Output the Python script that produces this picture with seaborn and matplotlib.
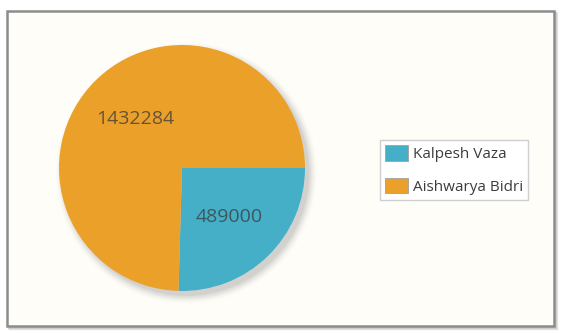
import numpy as np
import pandas as pd
import seaborn as sns
import matplotlib
matplotlib.use("Agg")
import matplotlib.pyplot as plt
from matplotlib.patches import Rectangle, Circle, Patch

# Data
names = ["Kalpesh Vaza", "Aishwarya Bidri"]
amounts = [489000, 1432284]
slice_colors = ["#45AFC8", "#EBA02A"]

df = pd.DataFrame({"name": names, "amount": amounts})

sns.set_theme(style="white")
plt.rcParams["font.family"] = ["Open Sans", "DejaVu Sans"]

W, H = 564, 333
fig = plt.figure(figsize=(W / 100, H / 100), dpi=100)
fig.patch.set_facecolor("white")

# Panel frame with a soft drop shadow
def fx(px):
    return px / W

def fy(py):
    return 1 - py / H

for off, col in [(3, "#e2e2e2"), (2, "#cfcfcf")]:
    fig.patches.append(Rectangle((fx(7 + off), fy(326 + off)), fx(547), 315 / H,
                                 transform=fig.transFigure, facecolor="none",
                                 edgecolor=col, lw=1.6, zorder=-3))
fig.patches.append(Rectangle((fx(7), fy(326)), fx(547), 315 / H,
                             transform=fig.transFigure, facecolor="#FFFDF7",
                             edgecolor="#8c8c8c", lw=1.8, zorder=-2))

# Pie axes
cx, cy, r = 182, 168, 123
ax = fig.add_axes([fx(cx - r), fy(cy + r), 2 * r / W, 2 * r / H])
ax.set_zorder(2)
ax.set_facecolor("none")
ax.set_axis_off()

# soft shadow under the pie
for i, a in enumerate(np.linspace(0.10, 0.02, 6)):
    ax.add_patch(Circle((0.035, -0.04), 1.0 + 0.012 * i, facecolor="#7a7a7a",
                        edgecolor="none", alpha=a, zorder=0, clip_on=False))

palette = sns.color_palette(slice_colors)
wedges, texts = ax.pie(df["amount"], labels=[str(v) for v in df["amount"]],
                       colors=palette, startangle=0, counterclock=False,
                       labeldistance=0.55, radius=1.0,
                       wedgeprops=dict(linewidth=0, zorder=2, clip_on=False),
                       textprops=dict(fontsize=14, color="#3a3a3a", alpha=0.75,
                                      ha="center", va="center"))
for t in texts:
    t.set_zorder(5)
ax.set_xlim(-1, 1)
ax.set_ylim(-1, 1)

# Legend
handles = [Patch(facecolor=c, edgecolor="#a0a0a0", lw=0.6) for c in palette]
leg = fig.legend(handles, names, loc="upper left",
                 bbox_to_anchor=(fx(380), fy(140)), bbox_transform=fig.transFigure,
                 fontsize=11, frameon=True, fancybox=False, shadow=False,
                 edgecolor="#cfcfcf", framealpha=1, facecolor="white",
                 handlelength=1.5, handleheight=1.2, handletextpad=0.3,
                 labelspacing=1.0, borderpad=0.35, borderaxespad=0,
                 labelcolor="#3c3c3c")
leg.set_zorder(3)

fig.savefig("out.png", dpi=100)
